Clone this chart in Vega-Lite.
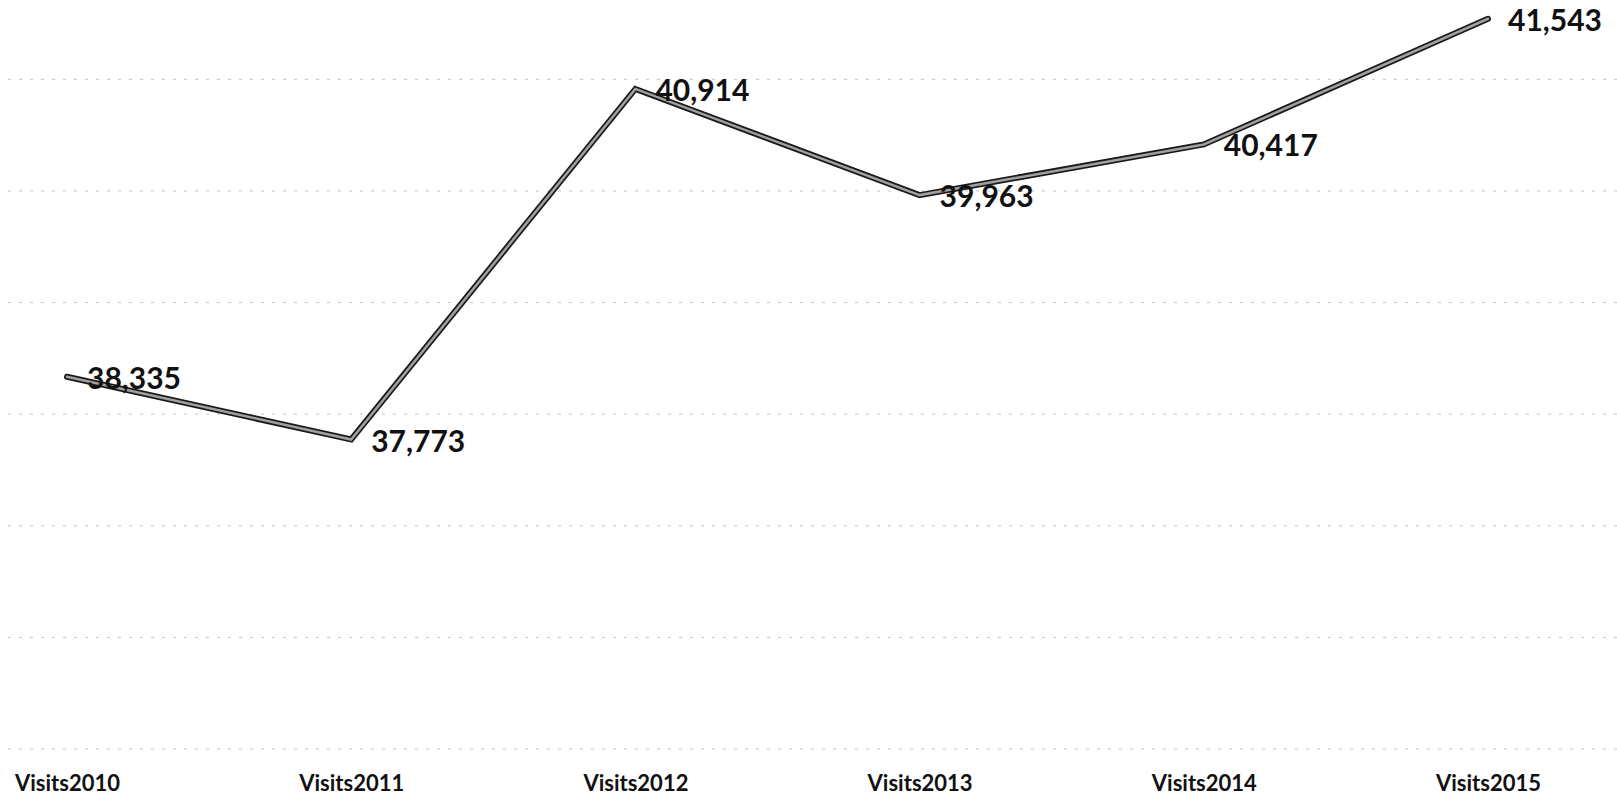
{
  "$schema": "https://vega.github.io/schema/vega-lite/v6.json",
  "autosize": "none",
  "padding": {"top": 0, "left": 0, "right": 0, "bottom": 54},
  "width": 1617,
  "height": 749,
  "background": "white",
  "datasets": {
    "visits": [
      {"year": "Visits2010", "visits": 38335},
      {"year": "Visits2011", "visits": 37773},
      {"year": "Visits2012", "visits": 40914},
      {"year": "Visits2013", "visits": 39963},
      {"year": "Visits2014", "visits": 40417},
      {"year": "Visits2015", "visits": 41543}
    ],
    "grid": [
      {"v": 35000}, {"v": 36000}, {"v": 37000}, {"v": 38000},
      {"v": 39000}, {"v": 40000}, {"v": 41000}
    ]
  },
  "config": {
    "view": {"stroke": null},
    "font": "Lato"
  },
  "layer": [
    {
      "data": {"name": "grid"},
      "mark": {"type": "rule", "color": "#c4c4c4", "strokeDash": [3, 8], "strokeWidth": 1},
      "encoding": {
        "y": {
          "field": "v",
          "type": "quantitative",
          "scale": {"domain": [35000, 41711], "zero": false, "nice": false},
          "axis": null
        }
      }
    },
    {
      "data": {"name": "visits"},
      "encoding": {
        "x": {
          "field": "year",
          "type": "ordinal",
          "sort": null,
          "scale": {"type": "point", "range": [67, 1488], "padding": 0},
          "axis": {
            "title": null,
            "domain": false,
            "ticks": false,
            "grid": false,
            "labelAngle": 0,
            "labelFont": "Lato",
            "labelFontWeight": "bold",
            "labelFontSize": 22,
            "labelColor": "#111",
            "labelPadding": 24,
            "labelBaseline": "top"
          }
        },
        "y": {
          "field": "visits",
          "type": "quantitative",
          "axis": null
        }
      },
      "layer": [
        {
          "mark": {"type": "line", "color": "#1a1a1a", "strokeWidth": 6, "strokeCap": "round", "strokeJoin": "miter"}
        },
        {
          "mark": {"type": "line", "color": "#a0a0a0", "strokeWidth": 2.5, "strokeCap": "round", "strokeJoin": "miter"}
        },
        {
          "mark": {
            "type": "text",
            "align": "left",
            "baseline": "middle",
            "dx": 20,
            "dy": 3,
            "font": "Lato",
            "fontWeight": "bold",
            "fontSize": 30,
            "color": "#111"
          },
          "encoding": {
            "text": {"field": "visits", "type": "quantitative", "format": ","}
          }
        }
      ]
    }
  ]
}
